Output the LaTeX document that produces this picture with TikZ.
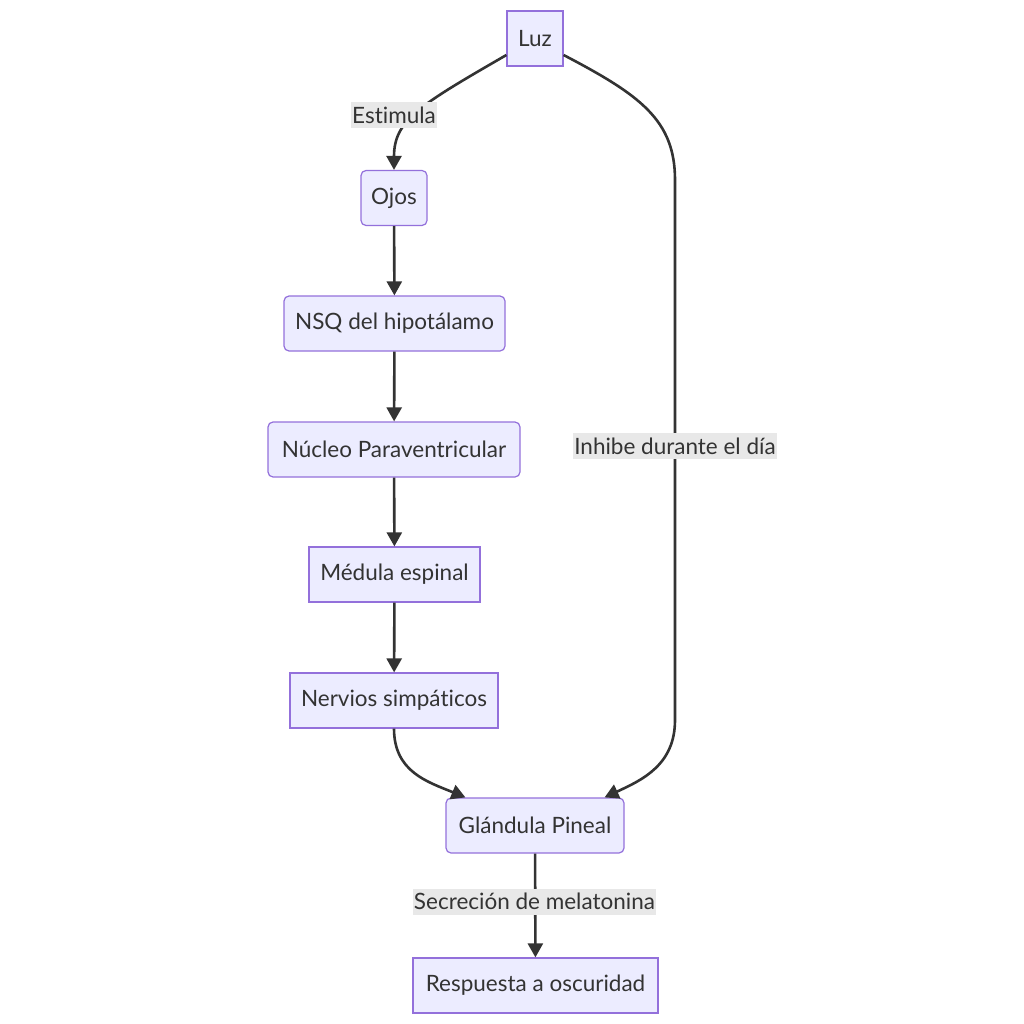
\documentclass[tikz,border=0pt]{standalone}
\usepackage{fontspec}
\setmainfont{Lato}[Ligatures=NoCommon]
\usetikzlibrary{arrows.meta}
\definecolor{boxfill}{HTML}{ECECFF}
\definecolor{boxline}{HTML}{9370DB}
\definecolor{linkcol}{HTML}{333333}
\definecolor{labelbg}{HTML}{E8E8E8}
\tikzset{
  box/.style={draw=boxline, fill=boxfill, line width=1.2pt, minimum height=55pt,
    text=linkcol, font=\fontsize{22.5}{26}\selectfont},
  rbox/.style={box, rounded corners=5pt},
  link/.style={draw=linkcol, line width=2.6pt, -{Triangle[length=14pt,width=15pt]}},
  linklabel/.style={fill=labelbg, text=linkcol, inner xsep=1pt, inner ysep=0pt,
    minimum height=26pt, font=\fontsize{22.5}{26}\selectfont}
}

\begin{document}
\begin{tikzpicture}[x=1pt,y=-1pt]
        \useasboundingbox (0,0) rectangle (1024,1024);
        % Nodes of the chain
        \node[box, minimum width=56pt] (luz) at (535,38.5) {Luz}; % light source
        \node[rbox, minimum width=66pt] (ojos) at (394,198) {Ojos};
        \node[rbox, minimum width=221pt] (nsq) at (394.5,323.5) {NSQ del hipotálamo};
        \node[rbox, minimum width=252pt] (npv) at (394,449.5) {Núcleo Paraventricular};
        \node[box, minimum width=171pt] (medula) at (394.5,574.5) {Médula espinal};
        \node[box, minimum width=208pt] (nervios) at (394,700.5) {Nervios simpáticos};
        \node[rbox, minimum width=178pt] (pineal) at (535,825.5) {Glándula Pineal};
        \node[box, minimum width=245pt] (resp) at (535.5,985.5) {Respuesta a oscuridad};
        % Links
        \draw[link] (luz.210) .. controls (420,105) and (394,120) .. (ojos.north); % left branch
        \draw[link] (ojos) -- (nsq);
        \draw[link] (nsq) -- (npv);
        \draw[link] (npv) -- (medula);
        \draw[link] (medula) -- (nervios);
        \draw[link] (nervios.south) .. controls (394,772) and (428,782) .. (pineal.158.5);
        \draw[link] (luz.-30) .. controls (640,95) and (675,120) .. (675,180)
          -- (675,720) .. controls (675,765) and (642,780) .. (pineal.22); % right branch
        \draw[link] (pineal) -- (resp);
        % Link labels
        \node[linklabel] (lestim) at (394,115) {Estimula};
        \node[linklabel] (linhib) at (675,446) {Inhibe durante el día};
        \node[linklabel] (lsecr) at (534.5,901.5) {Secreción de melatonina};
    \end{tikzpicture}
\end{document}
